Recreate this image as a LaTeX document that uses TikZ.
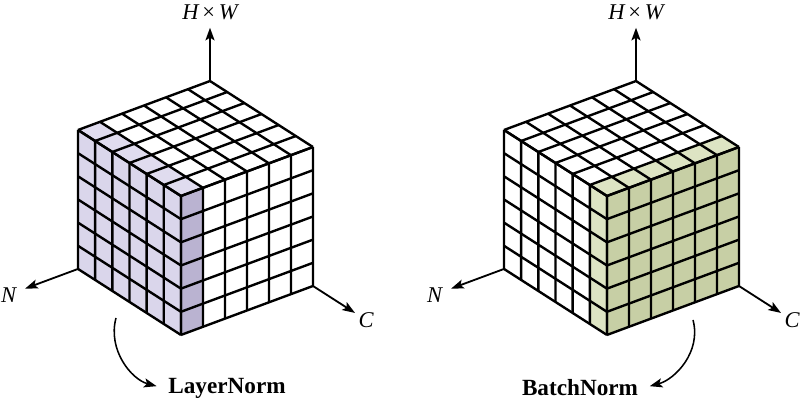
\documentclass[tikz,border=0pt]{standalone}
\usepackage{xcolor}
\usepackage{tikz}
\usepackage{fontspec}
\setmainfont{Liberation Serif}
\usetikzlibrary{shapes,arrows,arrows.meta,positioning,calc}
\definecolor{lavender}{HTML}{DAD6EB}
\definecolor{lavendertop}{HTML}{E0DCEF}
\definecolor{lavenderdark}{HTML}{BAB3D1}
\definecolor{olivelight}{HTML}{DDE4C3}
\definecolor{olivegreen}{HTML}{C7CFA5}

\begin{document}
\begin{tikzpicture}[
  cubeline/.style={line width=1.7pt,line join=round},
  axis/.style={-{Stealth[length=9pt,width=6.5pt,inset=2pt]},line width=1.3pt},
  axislabel/.style={font=\fontsize{16}{19}\selectfont\itshape},
  normlabel/.style={font=\fontsize{16.5}{20}\selectfont\bfseries},
  cubeaxes/.style={x={(0.429cm,-0.275cm)},y={(0cm,0.579cm)},z={(-0.55cm,-0.204cm)}}
]
  \useasboundingbox (0,0) rectangle (20,10);

  % LayerNorm cube
  \begin{scope}[xshift=5.25cm,yshift=4.5cm,cubeaxes]
    \fill[lavender] (0,0,6) -- (6,0,6) -- (6,6,6) -- (0,6,6) -- cycle;
    \fill[lavendertop] (0,6,5) -- (6,6,5) -- (6,6,6) -- (0,6,6) -- cycle;
    \fill[lavenderdark] (6,0,5) -- (6,6,5) -- (6,6,6) -- (6,0,6) -- cycle;
    \foreach \i in {0,...,6} {
      \draw[cubeline] (\i,6,0) -- (\i,6,6) (0,6,\i) -- (6,6,\i);
      \draw[cubeline] (\i,0,6) -- (\i,6,6) (0,\i,6) -- (6,\i,6);
      \draw[cubeline] (6,0,\i) -- (6,6,\i) (6,\i,0) -- (6,\i,6);
    }
    \coordinate (lnTop) at (0,6,0);
    \coordinate (lnLeft) at (0,0,6);
    \coordinate (lnRight) at (6,0,0);
    \coordinate (lnHW) at (0,8.3,0);
    \coordinate (lnN) at (0,0,8.4);
    \coordinate (lnC) at (8.45,0,0);
    \node[axislabel] (lnHWlabel) at (0,8.95,0) {H\,{\upshape ×}\,W};
    \node[axislabel] (lnNlabel) at (0,0,9.15) {N};
    \node[axislabel] (lnClabel) at (9.1,0,0) {C};
  \end{scope}
  \draw[axis] (lnTop) -- (lnHW);
  \draw[axis] (lnLeft) -- (lnN);
  \draw[axis] (lnRight) -- (lnC);

  % BatchNorm cube
  \begin{scope}[xshift=15.9cm,yshift=4.5cm,cubeaxes]
    \fill[olivegreen] (6,0,0) -- (6,6,0) -- (6,6,6) -- (6,0,6) -- cycle;
    \fill[olivelight] (5,6,0) -- (6,6,0) -- (6,6,6) -- (5,6,6) -- cycle;
    \fill[olivelight] (5,0,6) -- (6,0,6) -- (6,6,6) -- (5,6,6) -- cycle;
    \foreach \i in {0,...,6} {
      \draw[cubeline] (\i,6,0) -- (\i,6,6) (0,6,\i) -- (6,6,\i);
      \draw[cubeline] (\i,0,6) -- (\i,6,6) (0,\i,6) -- (6,\i,6);
      \draw[cubeline] (6,0,\i) -- (6,6,\i) (6,\i,0) -- (6,\i,6);
    }
    \coordinate (bnTop) at (0,6,0);
    \coordinate (bnLeft) at (0,0,6);
    \coordinate (bnRight) at (6,0,0);
    \coordinate (bnHW) at (0,8.3,0);
    \coordinate (bnN) at (0,0,8.4);
    \coordinate (bnC) at (8.45,0,0);
    \node[axislabel] (bnHWlabel) at (0,8.95,0) {H\,{\upshape ×}\,W};
    \node[axislabel] (bnNlabel) at (0,0,9.15) {N};
    \node[axislabel] (bnClabel) at (9.1,0,0) {C};
  \end{scope}
  \draw[axis] (bnTop) -- (bnHW);
  \draw[axis] (bnLeft) -- (bnN);
  \draw[axis] (bnRight) -- (bnC);

  % norm labels
  \node[normlabel] (LayerNorm) at (5.675,0.3) {LayerNorm};
  \node[normlabel] (BatchNorm) at (14.5,0.3) {BatchNorm};
  \coordinate (lnFrom) at (2.9,2.05);
  \coordinate (bnFrom) at (17.325,2.0);
  \draw[axis,line width=1.1pt,shorten >=5pt] (lnFrom) to[out=255,in=165] (LayerNorm.west);
  \draw[axis,line width=1.1pt,shorten >=5pt] (bnFrom) to[out=285,in=15] (BatchNorm.east);
\end{tikzpicture}
\end{document}
